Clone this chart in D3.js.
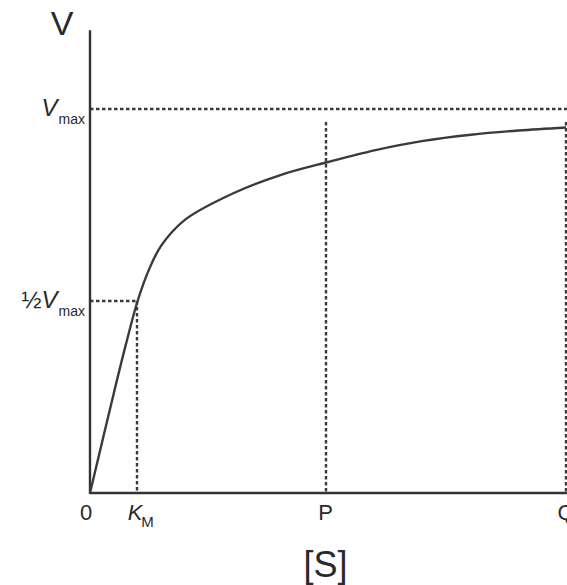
<!DOCTYPE html>
<html>
<head>
<meta charset="utf-8">
<script src="https://cdn.jsdelivr.net/npm/d3@7"></script>
<style>
  html, body { margin: 0; padding: 0; background: #fff; }
  svg text { font-family: "Liberation Sans", Arial, sans-serif; fill: #2a2a2a; }
</style>
</head>
<body>
<svg id="chart" width="567" height="585"></svg>
<script>
// curve ([S] in units where Q = 10, V as fraction of Vmax)
const sValues = [0, 0.5, 0.75, 1, 1.25, 1.5, 2, 3, 4, 5, 6, 7, 8, 9, 10];
const vValues = [0, 0.26, 0.385, 0.5, 0.585, 0.645, 0.712, 0.78, 0.828, 0.862, 0.893, 0.917, 0.933, 0.944, 0.952];

// marked substrate concentrations on the x axis
const xMarks = [
    { label: "0", s: 0 },
    { label: "K", sub: "M", s: 0.98, italic: true },
    { label: "P", s: 4.95 },
    { label: "Q", s: 10 }
];
const kmValue = 0.98;
const vmax = 1;
const halfVmax = 0.5;
const guideTop = 0.965;   // where the P and Q guides stop
const axisTop = 1.205;

const svg = d3.select("svg#chart");

const xScale = d3.scaleLinear().domain([0, 10]).range([90, 566]);
const yScale = d3.scaleLinear().domain([0, 1]).range([493, 109]);

const ink = "#333";

// dashed guides
const guides = [
    [[0, vmax], [10.2, vmax]],
    [[0, halfVmax], [kmValue, halfVmax]],
    [[kmValue, halfVmax], [kmValue, 0]],
    [[4.95, guideTop], [4.95, 0]],
    [[10, guideTop], [10, 0]]
];
svg.append("g")
    .selectAll("line")
    .data(guides)
    .enter()
    .append("line")
    .attr("x1", d => Math.round(xScale(d[0][0])))
    .attr("y1", d => Math.round(yScale(d[0][1])))
    .attr("x2", d => Math.round(xScale(d[1][0])))
    .attr("y2", d => Math.round(yScale(d[1][1])))
    .attr("stroke", "#3a3a3a")
    .attr("stroke-width", 2.4)
    .attr("stroke-dasharray", "3.5,2.5");

// axes, no ticks
svg.append("line")
    .attr("x1", xScale(0)).attr("y1", yScale(axisTop))
    .attr("x2", xScale(0)).attr("y2", yScale(0) + 1)
    .attr("stroke", ink).attr("stroke-width", 2.4);
svg.append("line")
    .attr("x1", xScale(0)).attr("y1", yScale(0))
    .attr("x2", xScale(10.2)).attr("y2", yScale(0))
    .attr("stroke", ink).attr("stroke-width", 2.4);

// the curve
const points = sValues.map((s, i) => [s, vValues[i]]);
const line = d3.line()
    .x(d => xScale(d[0]))
    .y(d => yScale(d[1]))
    .curve(d3.curveCatmullRom.alpha(0.5));
svg.append("path")
    .datum(points)
    .attr("d", line)
    .attr("fill", "none")
    .attr("stroke", "#3a3a3a")
    .attr("stroke-width", 2.4);

// x labels
const xl = svg.append("g")
    .selectAll("text")
    .data(xMarks)
    .enter()
    .append("text")
    .attr("x", d => xScale(d.s))
    .attr("y", yScale(0) + 27)
    .attr("text-anchor", d => d.sub ? "start" : "middle")
    .attr("font-size", 22);
xl.filter(d => d.s === 0).attr("x", d => xScale(d.s) - 4);
xl.filter(d => d.sub).attr("x", d => xScale(d.s) - 9);
xl.append("tspan")
    .attr("font-style", d => d.italic ? "italic" : "normal")
    .text(d => d.label);
xl.filter(d => d.sub)
    .append("tspan")
    .attr("font-size", 15)
    .attr("dy", 7)
    .attr("dx", -1)
    .text(d => d.sub);

// y labels
const yLabel = (v, pre) => {
    const t = svg.append("text")
        .attr("x", xScale(0) - 5)
        .attr("y", yScale(v) + 7)
        .attr("text-anchor", "end")
        .attr("font-size", 24);
    if (pre) t.append("tspan").attr("font-size", 24).text(pre);
    t.append("tspan").attr("font-style", "italic").text("V");
    t.append("tspan").attr("font-size", 14).attr("dy", 8).attr("dx", 1).text("max");
};
yLabel(vmax, null);
yLabel(halfVmax, "½");

// axis titles
svg.append("text")
    .attr("x", xScale(0) - 28)
    .attr("y", yScale(axisTop) + 5)
    .attr("text-anchor", "middle")
    .attr("font-size", 34)
    .text("V");
svg.append("text")
    .attr("x", xScale(4.95))
    .attr("y", 577)
    .attr("text-anchor", "middle")
    .attr("font-size", 36)
    .text("[S]");
</script>
</body>
</html>
